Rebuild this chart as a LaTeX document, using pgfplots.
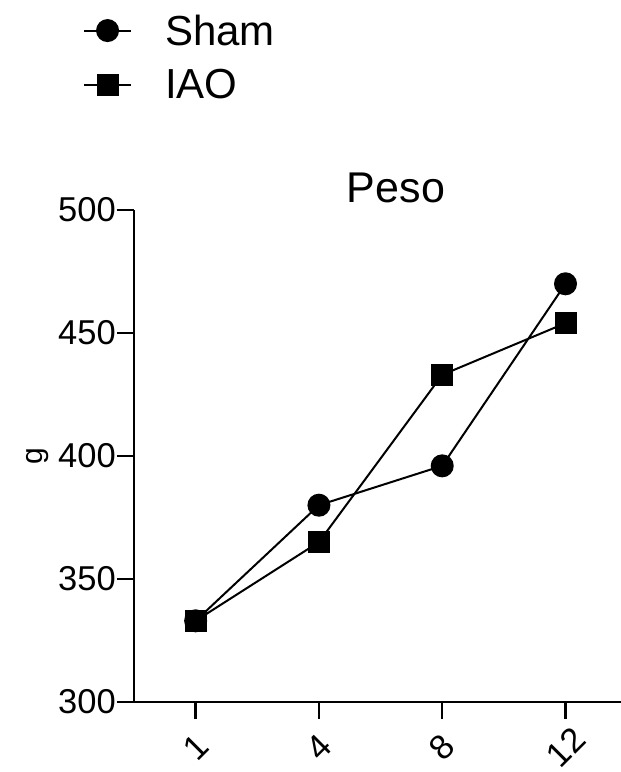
\documentclass[border=0pt]{standalone}
\usepackage{pgfplots}
\pgfplotsset{compat=1.18}
\usepackage{fontspec}
\setmainfont{Liberation Sans}
\begin{document}
\begin{tikzpicture}
\path[use as bounding box] (-134pt,-70pt) rectangle ++(621pt,772pt);
\begin{axis}[
  at={(0pt,0pt)}, anchor=south west,
  scale only axis,
  width=487pt, height=492pt,
  xmin=-0.5, xmax=3.45,
  ymin=300, ymax=500,
  ytick={300,350,400,450,500},
  xtick={0,1,2,3},
  xticklabels={1,4,8,12},
  axis lines=left,
  axis line style={-, line width=2.6pt},
  clip=false,
  tick align=outside,
  major tick length=17pt,
  tick style={line width=2.4pt, black},
  /pgf/number format/assume math mode=true,
  yticklabel style={font=\fontsize{34.5}{38}\selectfont, inner sep=1pt, xshift=0pt},
  xticklabel style={font=\fontsize{34.5}{38}\selectfont, rotate=45, anchor=center, inner sep=0pt},
  xticklabel shift=28pt,
  ylabel={g},
  ylabel style={font=\fontsize{30}{34}\selectfont, at={(axis description cs:-0.198,0.5)}, anchor=center},
  title={Peso},
  title style={font=\fontsize{43}{48}\selectfont, at={(axis description cs:0.538,1.003)}, anchor=base},
  legend style={draw=none, fill=none, inner sep=0pt, at={(axis description cs:-0.105,1.310)}, anchor=west,
    font=\fontsize{42}{48}\selectfont, row sep=23pt, column sep=0pt,
    nodes={inner sep=0pt}},
  legend cell align=left,
  legend image code/.code={
    \draw[mark repeat=2,mark phase=2,#1] plot coordinates {(0pt,0pt) (23.5pt,0pt) (47pt,0pt)};
    \node[inner sep=0pt, minimum width=22pt] at (58pt,0pt) {};
  },
]
\addplot[black, line width=2pt, mark=*, mark size=10.5pt, mark options={solid}]
  coordinates {(0,333) (1,380) (2,396) (3,470)};
\addlegendentry{Sham}
\addplot[black, line width=2pt, mark=square*, mark size=10pt, mark options={solid}]
  coordinates {(0,333) (1,365) (2,433) (3,454)};
\addlegendentry{IAO}
\end{axis}
\end{tikzpicture}
\end{document}
